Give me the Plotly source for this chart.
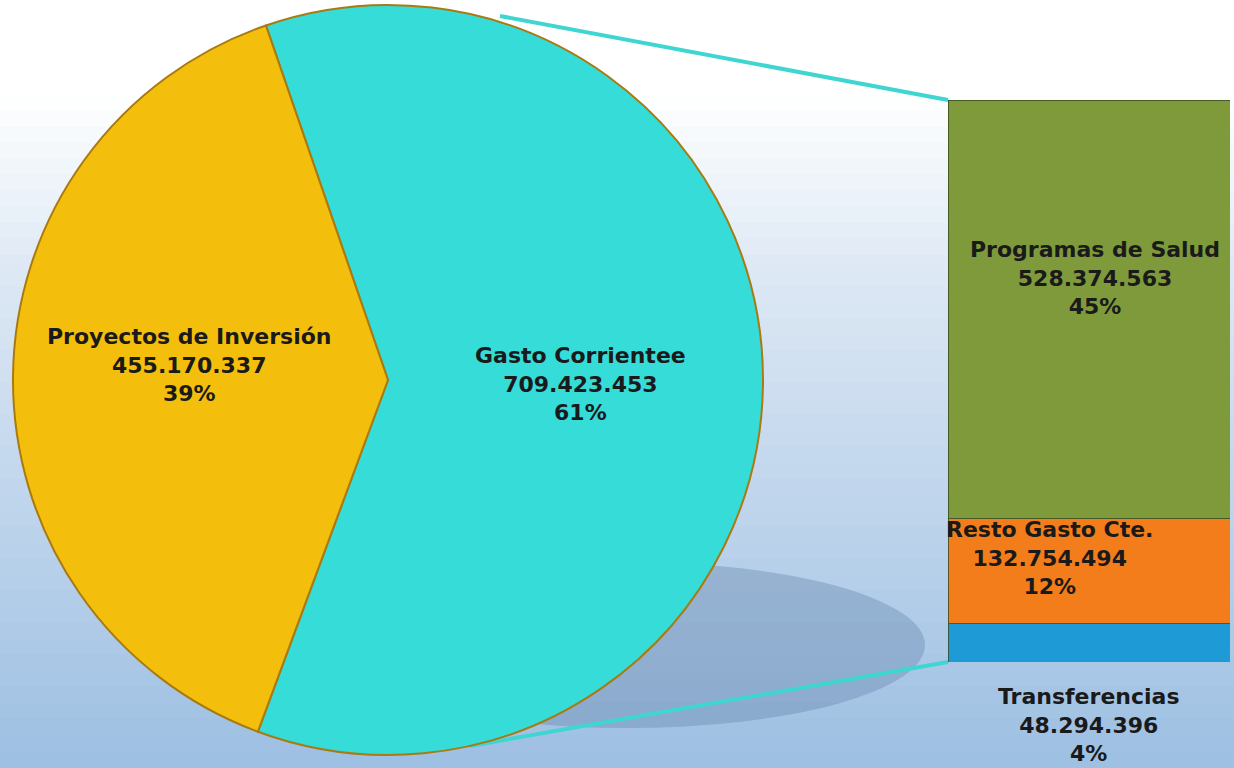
import plotly.graph_objects as go

# ---- data ----
pie_labels = ["Gasto Corrientee", "Proyectos de Inversión"]
pie_values = [709423453, 455170337]
pie_pcts = ["61%", "39%"]
pie_colors = ["#35DCD8", "#F4BF0C"]

bar_labels = ["Transferencias", "Resto Gasto Cte.", "Programas de Salud"]
bar_values = [48294396, 132754494, 528374563]
bar_pcts = ["4%", "12%", "45%"]
bar_colors = ["#1E9AD6", "#F27D1A", "#7E9A3B"]


def fmt(v):
    return f"{v:,}".replace(",", ".")


W, H = 1234, 768
fig = go.Figure()

# pie
fig.add_trace(go.Pie(
    labels=pie_labels, values=pie_values, sort=False, direction="clockwise",
    rotation=-19, marker=dict(colors=pie_colors, line=dict(color="#A87A10", width=2)),
    textinfo="none", hoverinfo="label+value+percent", showlegend=False,
    domain=dict(x=[0, 776 / W], y=[1 - 755 / H, 1 - 5 / H]),
))

# stacked bar
for lab, val, col in zip(bar_labels, bar_values, bar_colors):
    fig.add_trace(go.Bar(
        x=[0], y=[val], name=lab, marker=dict(color=col, line=dict(color="#3a4a20", width=0.8)),
        width=1, showlegend=False, xaxis="x", yaxis="y",
    ))

total_bar = sum(bar_values)
fig.update_layout(
    barmode="stack",
    width=W, height=H,
    margin=dict(l=0, r=0, t=0, b=0),
    paper_bgcolor="white", plot_bgcolor="rgba(0,0,0,0)",
    xaxis=dict(domain=[948 / W, 1230 / W], range=[-0.5, 0.5], visible=False, fixedrange=True),
    yaxis=dict(domain=[1 - 662 / H, 1 - 100 / H], range=[0, total_bar], visible=False, fixedrange=True),
)

# background gradient bands
shapes = []
N = 48
top = (255, 255, 255)
mid = (222, 233, 245)
bot = (158, 192, 227)
for i in range(N):
    t = i / (N - 1)
    if t < 0.12:
        c = top
    elif t < 0.35:
        u = (t - 0.12) / 0.23
        c = tuple(int(top[k] + (mid[k] - top[k]) * u) for k in range(3))
    else:
        u = (t - 0.35) / 0.65
        c = tuple(int(mid[k] + (bot[k] - mid[k]) * u) for k in range(3))
    shapes.append(dict(type="rect", xref="paper", yref="paper", x0=0, x1=1,
                       y0=1 - (i + 1) / N, y1=1 - i / N + 0.002,
                       fillcolor=f"rgb{c}", line=dict(width=0), layer="below"))
# shadow under the pie
shapes.append(dict(type="circle", xref="paper", yref="paper",
                   x0=330 / W, x1=925 / W, y0=1 - 728 / H, y1=1 - 562 / H,
                   fillcolor="rgba(95,125,165,0.35)", line=dict(width=0), layer="below"))
# connector lines
shapes.append(dict(type="line", xref="paper", yref="paper",
                   x0=500 / W, y0=1 - 16 / H, x1=948 / W, y1=1 - 100 / H,
                   line=dict(color="#3FD6D2", width=4), layer="below"))
shapes.append(dict(type="line", xref="paper", yref="paper",
                   x0=470 / W, y0=1 - 746 / H, x1=948 / W, y1=1 - 662 / H,
                   line=dict(color="#3FD6D2", width=4), layer="below"))
fig.update_layout(shapes=shapes)

font = dict(family="DejaVu Sans, Arial, sans-serif", size=22, color="#1a1a1a")
ann = []
# pie labels
pie_pos = {"Gasto Corrientee": (580 / W, 1 - 384 / H), "Proyectos de Inversión": (189 / W, 1 - 365 / H)}
for lab, val, pct in zip(pie_labels, pie_values, pie_pcts):
    x, y = pie_pos[lab]
    ann.append(dict(xref="paper", yref="paper", x=x, y=y, xanchor="center", yanchor="middle",
                    showarrow=False, text=f"<b>{lab}<br>{fmt(val)}<br>{pct}</b>", font=font, align="center"))
# bar labels
cum = 0
for lab, val, pct in zip(bar_labels, bar_values, bar_pcts):
    txt = f"<b>{lab}<br>{fmt(val)}<br>{pct}</b>"
    if lab == "Transferencias":
        ann.append(dict(xref="x", yref="y", x=0.0, y=0, xanchor="center", yanchor="top", yshift=-20,
                        showarrow=False, text=txt, font=font, align="center"))
    elif lab == "Resto Gasto Cte.":
        ann.append(dict(xref="x", yref="y", x=-0.14, y=cum + val, xanchor="center", yanchor="top", yshift=4,
                        showarrow=False, text=txt, font=font, align="center"))
    else:
        ann.append(dict(xref="x", yref="y", x=0.02, y=cum + val * 0.575, xanchor="center", yanchor="middle",
                        showarrow=False, text=txt, font=font, align="center"))
    cum += val
fig.update_layout(annotations=ann)

fig.write_html("out.html", config={"displayModeBar": False},
               post_script="document.body.style.margin='0';")
